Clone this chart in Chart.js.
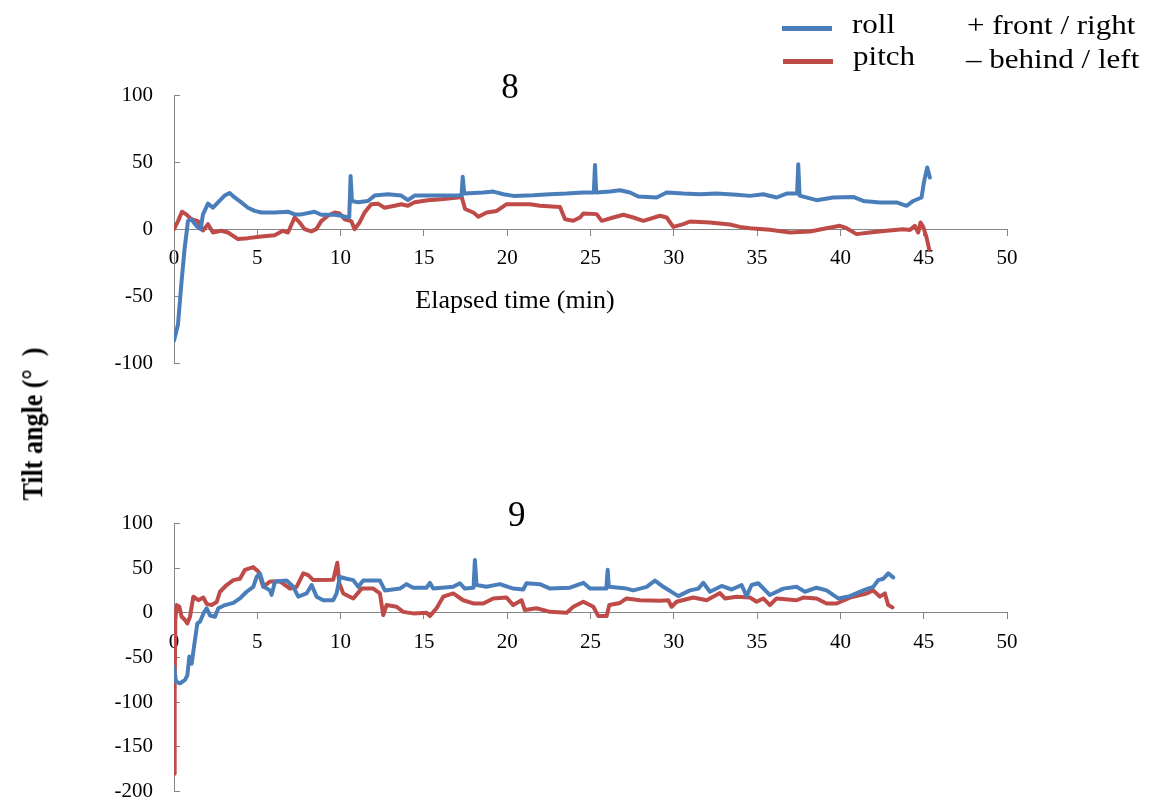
<!DOCTYPE html>
<html>
<head>
<meta charset="utf-8">
<script src="https://cdn.jsdelivr.net/npm/chart.js@4.4.0/dist/chart.umd.min.js"></script>
<style>
  html, body { margin: 0; padding: 0; background: #fff; }
  #page { position: relative; width: 1153px; height: 806px; overflow: hidden;
          font-family: "Liberation Serif", "Times New Roman", serif; color: #000; }
  #page canvas { position: absolute; left: 0; top: 0; }
  .txt { position: absolute; white-space: nowrap; line-height: 1; }
  .legend { font-size: 27px; transform: scaleX(1.15); transform-origin: left center; }
  .swatch { position: absolute; width: 50px; height: 4.5px; }
</style>
</head>
<body>
<div id="page">
  <canvas id="chart8" width="1153" height="806"></canvas>
  <canvas id="chart9" width="1153" height="860"></canvas>

  <div class="swatch" style="left:782px; top:26px; background:#4A7EBB;"></div>
  <div class="swatch" style="left:783px; top:59px; background:#BE4B48;"></div>
  <div class="txt legend" style="left:852px; top:10.7px;">roll</div>
  <div class="txt legend" style="left:853px; top:43.4px;">pitch</div>
  <div class="txt legend" style="left:967px; top:12.4px;">+ front / right</div>
  <div class="txt legend" style="left:966px; top:45.7px;">– behind / left</div>

  <div class="txt" style="left:510px; top:69px; font-size:35px; transform:translateX(-50%);">8</div>
  <div class="txt" style="left:516.7px; top:496.7px; font-size:35px; transform:translateX(-50%);">9</div>
  <div class="txt" style="left:515px; top:286.5px; font-size:26px; transform:translateX(-50%);">Elapsed time (min)</div>
  <div class="txt" style="left:33.3px; top:424px; font-size:26px; font-weight:bold;
       transform:translate(-50%,-50%) rotate(-90deg) scaleY(1.12);">Tilt angle (°&#8194;)</div>
</div>

<script>
// Sensor 8: tilt readings over elapsed time (min)
const time8Roll = [0,0.24,0.44,0.64,0.84,1.04,1.34,1.6,1.74,2.04,2.34,2.64,3.04,3.34,3.64,4.04,4.44,4.84,5.24,6.04,6.84,7.24,7.64,8.44,8.84,9.64,10.04,10.44,10.52,10.6,10.68,11.04,11.64,12.04,12.84,13.64,14.04,14.44,15.64,17.04,17.26,17.33,17.42,18.57,19.17,19.77,20.37,21.57,22.57,23.57,24.57,25.2,25.27,25.34,26.17,26.77,27.37,27.87,28.97,29.57,30.57,31.57,32.57,33.77,34.57,35.37,36.17,36.77,37.4,37.47,37.55,38.57,39.57,40.77,41.37,42.37,43.37,43.97,44.37,44.87,45.01,45.21,45.37];
const roll8 = [-83,-71,-41,-14,6,7.4,2.5,0,11,19,16,20,25,27,23.6,20,16,13.6,12.4,12.4,13,11,11,13,10.7,10.7,10,8.7,9,39.7,21,20,21,25,26,25,21.6,25,25,25,25,39,26.5,27.3,28,26,24.8,25.3,26,26.5,27.3,27.3,47.9,27.3,28,29,27.3,24.3,23.6,27.3,26.5,26,26.5,25.6,24.8,26,23.6,26.5,26.5,48.4,25,21.6,23.6,24,21,19.9,19.9,17.4,21,23.6,34.7,46,38.5];
const time8Pitch = [0,0.24,0.48,0.74,1.04,1.44,1.74,2.04,2.34,2.84,3.24,3.84,4.44,5.24,6.04,6.54,6.84,7.24,7.54,7.84,8.24,8.54,8.84,9.24,9.64,9.94,10.24,10.64,10.84,11.14,11.44,11.84,12.24,12.64,13.24,13.64,14.04,14.44,15.24,16.04,17.04,17.27,17.47,17.97,18.27,18.77,19.37,19.97,21.37,21.97,23.17,23.47,23.97,24.37,24.57,25.37,25.67,26.37,26.97,27.57,28.17,29.17,29.57,29.97,30.57,30.97,32.17,33.37,33.97,34.57,35.77,36.97,38.17,39.17,39.97,40.37,40.97,41.77,42.77,43.77,44.17,44.47,44.67,44.81,44.97,45.17,45.33];
const pitch8 = [0,6,13,11,7.4,6,-1,3.7,-2.5,-1.2,-2.5,-7.4,-6.7,-5.5,-4.5,-1.2,-2.5,8.7,5,0,-1.7,0,6,10,12.4,11.7,7.4,6,0,5,12.4,18.6,19,16,17.4,18.6,17.4,20,21.6,22.3,23.6,24,15,12.4,9.2,12.4,13.6,18.6,18.6,17.4,16.6,7.4,6.2,8.7,11.7,11.2,6.2,8.7,10.7,8.7,6.2,10,8.7,1.7,3.7,5.7,5,3.5,1.7,0.7,-0.5,-2.5,-1.7,0.7,2.5,0.7,-3.7,-2.5,-1.2,0,-0.7,2.5,-2.5,5,1.7,-6.2,-15];

// Sensor 9
const time9Roll = [0,0.12,0.36,0.66,0.8,0.92,1.06,1.2,1.4,1.56,1.76,1.96,2.16,2.46,2.66,3.06,3.56,3.96,4.36,4.76,4.96,5.16,5.4,5.76,5.86,6.06,6.76,7.16,7.46,7.96,8.26,8.56,8.96,9.56,9.76,9.96,10.36,10.76,11.06,11.36,12.36,12.66,13.56,13.96,14.36,15.16,15.36,15.56,16.76,17.16,17.46,17.98,18.06,18.16,18.76,19.56,20.36,20.96,21.16,21.96,22.57,23.77,24.57,24.97,25.95,26.03,26.1,27.17,27.57,28.37,28.87,29.37,30.27,30.97,31.47,31.77,32.17,32.87,33.47,34.07,34.37,34.67,35.07,35.77,36.57,37.37,37.87,38.57,39.17,39.87,40.57,41.37,41.97,42.27,42.57,42.87,43.17];
const roll9 = [-60,-77,-79,-75,-70,-49,-57,-38,-12,-10,-1,5,-3,-4.5,5,8.6,11,16,23.5,29,40,44,29,25,20,35,36,29,18,21.6,31,18,14,14,21.6,40,38,36.5,29,36,36,25,27,32,28,28,33.5,27,29,33,27,28,59,31,29,32,27,26,33,32,27,28,33.5,27,27,48,29,27,25,29,36,29,18.6,25,27,33.5,23.5,30,26,31,18.6,31,33,19.8,27,29,23.5,28,25,16,18.6,25,29,36.5,38,44,39.5];
const time9Pitch = [0,0.04,0.08,0.16,0.32,0.46,0.66,0.8,0.96,1.16,1.46,1.76,1.96,2.26,2.56,2.76,3.16,3.56,3.96,4.26,4.76,5.06,5.36,5.76,6.36,6.96,7.36,7.76,8.06,8.36,9.56,9.8,9.92,10.16,10.76,11.26,11.96,12.36,12.56,12.76,13.36,13.76,14.36,15.16,15.36,15.76,16.16,16.76,17.36,17.96,18.56,19.16,19.96,20.36,20.86,21.06,21.76,22.57,23.57,23.97,24.57,25.17,25.47,25.97,26.13,26.77,27.17,27.97,29.17,29.67,29.87,30.17,31.17,31.97,32.77,33.07,33.77,34.57,34.97,35.37,35.77,36.17,37.37,37.77,38.57,39.17,39.77,40.57,41.57,41.97,42.37,42.67,42.87,43.13];
const pitch9 = [-180,-86,-8,8.6,6.7,-4.5,-8,-12,-4.5,18,14,17,10,8.6,12,23.5,31,36.5,38,48,51,46,29,35,35,27,29,44,42,36.5,37,56,33,21.6,16,27,27,21.6,-2.6,8.6,6.7,1,-0.7,0,-3.7,5,18,21.6,14,10.4,10.4,16,17,8.6,14,3,5,1,0,6.7,12.3,6.7,-3.7,-3.7,8.6,11,16,14,13.4,14,6.7,12.3,17,14,22,16,18,17,12.3,16,8.6,16,14,17,16,10.4,10.4,17,21.6,25,18,21.6,8.6,6];

// Axis ranges and tick spacing
const xRange = [0, 50];
const xStep = 5;
const yRange8 = [-100, 100];
const yRange9 = [-200, 100];
const yStep = 50;

const ROLL_COLOR = '#4A7EBB';
const PITCH_COLOR = '#BE4B48';
const AXIS_COLOR = '#868686';
const TICK_FONT = { family: '"Liberation Serif", "Times New Roman", serif', size: 21 };

function toPoints(xs, ys) {
  return xs.map((x, i) => ({ x: x, y: ys[i] }));
}

function buildChart(id, rollT, rollV, pitchT, pitchV, yRange, padTop, padBottom) {
  return new Chart(document.getElementById(id), {
    type: 'line',
    data: {
      datasets: [
        { label: 'roll', data: toPoints(rollT, rollV), borderColor: ROLL_COLOR },
        { label: 'pitch', data: toPoints(pitchT, pitchV), borderColor: PITCH_COLOR }
      ]
    },
    options: {
      responsive: false,
      animation: false,
      devicePixelRatio: 1,
      parsing: false,
      layout: { padding: { left: 94, right: 146, top: padTop, bottom: padBottom } },
      plugins: { legend: { display: false }, tooltip: { enabled: false } },
      elements: {
        point: { radius: 0, hoverRadius: 0 },
        line: { tension: 0, borderWidth: 4, borderJoinStyle: 'round', borderCapStyle: 'round', fill: false }
      },
      scales: {
        x: {
          type: 'linear',
          min: xRange[0], max: xRange[1],
          position: { y: 0 },
          ticks: { stepSize: xStep, font: TICK_FONT, color: '#000', padding: 11, maxRotation: 0, autoSkip: false,
                   callback: v => String(v) },
          grid: { drawOnChartArea: false, drawTicks: true, tickLength: 6, color: AXIS_COLOR, lineWidth: 1 },
          border: { color: AXIS_COLOR, width: 1 }
        },
        y: {
          type: 'linear',
          min: yRange[0], max: yRange[1],
          position: 'left',
          afterFit: scale => { scale.width = 80; },
          ticks: { stepSize: yStep, font: TICK_FONT, color: '#000', padding: 27, callback: v => String(v) },
          grid: { drawOnChartArea: false, drawTicks: true, tickLength: -6, color: AXIS_COLOR, lineWidth: 1 },
          border: { color: AXIS_COLOR, width: 1 }
        }
      }
    }
  });
}

buildChart('chart8', time8Roll, roll8, time8Pitch, pitch8, yRange8, 95, 442.7);
buildChart('chart9', time9Roll, roll9, time9Pitch, pitch9, yRange9, 523.3, 68.3);
</script>
</body>
</html>
